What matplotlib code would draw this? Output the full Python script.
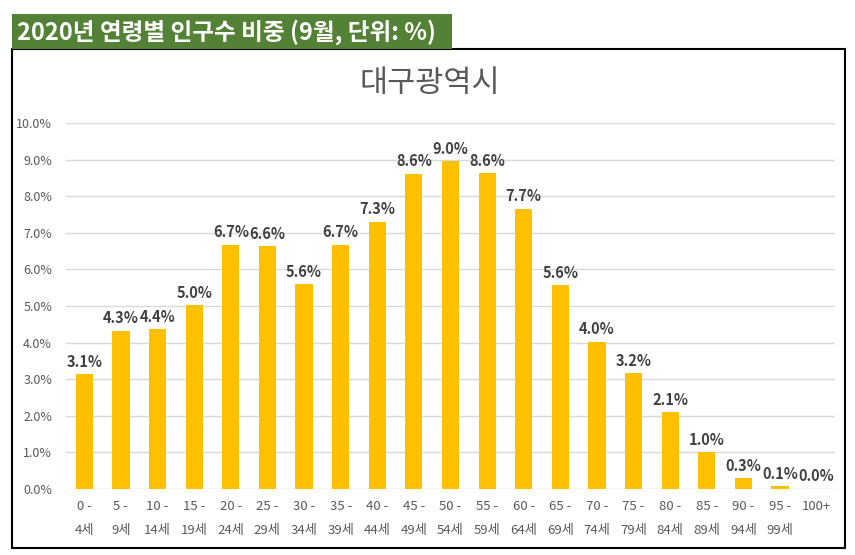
import matplotlib
matplotlib.use("Agg")
import matplotlib.pyplot as plt
from matplotlib.patches import Rectangle
from matplotlib.ticker import FuncFormatter

plt.rcParams["font.family"] = ["Noto Sans CJK KR", "DejaVu Sans"]

age_groups = ["0 -\n4세", "5 -\n9세", "10 -\n14세", "15 -\n19세", "20 -\n24세",
              "25 -\n29세", "30 -\n34세", "35 -\n39세", "40 -\n44세", "45 -\n49세",
              "50 -\n54세", "55 -\n59세", "60 -\n64세", "65 -\n69세", "70 -\n74세",
              "75 -\n79세", "80 -\n84세", "85 -\n89세", "90 -\n94세", "95 -\n99세",
              "100+\n"]
shares = [3.14, 4.32, 4.37, 5.02, 6.67, 6.64, 5.60, 6.67, 7.30, 8.61,
          8.96, 8.63, 7.66, 5.57, 4.02, 3.17, 2.10, 1.01, 0.30, 0.08, 0.01]
shares = [v / 100 for v in shares]

W, H = 855, 555
fig = plt.figure(figsize=(W / 100, H / 100), dpi=100)

# chart frame and banner
fig.patches.append(Rectangle((12 / W, 1 - 548 / H), 833 / W, 499 / H,
                             transform=fig.transFigure, fill=False,
                             edgecolor="black", linewidth=1.5))
fig.patches.append(Rectangle((12 / W, 1 - 49 / H), 440 / W, 35 / H,
                             transform=fig.transFigure, facecolor="#538135",
                             edgecolor="none"))
fig.text(17 / W, 1 - 32 / H, "2020년 연령별 인구수 비중 (9월, 단위: %)",
         color="white", fontsize=17, fontweight="bold", va="center", ha="left")

ax = fig.add_axes([66 / W, 1 - 489 / H, 769 / W, 366 / H])
x = range(len(shares))
ax.bar(x, shares, width=0.47, color="#FFC000", zorder=2)

for i, v in enumerate(shares):
    ax.text(i, v + 0.0012, "{:.1f}%".format(v * 100), ha="center", va="bottom",
            fontsize=10.5, fontweight="bold", color="#404040")

ax.set_xlim(-0.5, len(shares) - 0.5)
ax.set_ylim(0, 0.10)
ax.set_yticks([i / 100 for i in range(11)])
ax.yaxis.set_major_formatter(FuncFormatter(lambda v, p: "{:.1f}%".format(v * 100)))
ax.set_xticks(list(x))
ax.set_xticklabels(age_groups, linespacing=2.1)
ax.tick_params(axis="both", length=0, colors="#595959", labelsize=9)
ax.tick_params(axis="x", labelsize=9.5, pad=8)
ax.tick_params(axis="y", pad=10)
ax.grid(axis="y", color="#D9D9D9", linewidth=1, zorder=0)
for s in ax.spines.values():
    s.set_visible(False)

fig.text(430 / W, 1 - 84 / H, "대구광역시", fontsize=22, color="#595959",
         ha="center", va="center")

fig.savefig("out.png", dpi=100)
